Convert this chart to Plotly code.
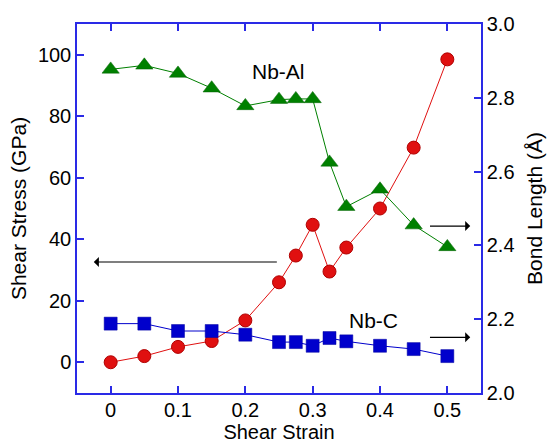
import plotly.graph_objects as go

strain = [0, 0.05, 0.1, 0.15, 0.2, 0.25, 0.275, 0.3, 0.325, 0.35, 0.4, 0.45, 0.5]
stress = [0, 2, 5, 6.9, 13.6, 26, 34.7, 44.7, 29.5, 37.3, 50, 69.8, 98.5]
nbal = [2.877, 2.888, 2.866, 2.826, 2.778, 2.795, 2.797, 2.797, 2.625, 2.505, 2.552, 2.455, 2.396]
nbc = [2.188, 2.188, 2.168, 2.168, 2.158, 2.138, 2.138, 2.128, 2.149, 2.140, 2.128, 2.119, 2.100]

FONT = "Liberation Sans, Arial, Helvetica, sans-serif"
AX = "#2a2ae6"

fig = go.Figure()
fig.add_trace(go.Scatter(x=strain, y=stress, mode="lines+markers", name="Stress",
                         line=dict(color="#e01010", width=1),
                         marker=dict(symbol="circle", size=13, color="#e01010",
                                     line=dict(color="#b00000", width=1))))
fig.add_trace(go.Scatter(x=strain, y=nbal, mode="lines+markers", name="Nb-Al", yaxis="y2",
                         line=dict(color="#008000", width=1),
                         marker=dict(symbol="triangle-up", size=15, color="#008000",
                                     line=dict(color="#006000", width=0.5))))
fig.add_trace(go.Scatter(x=strain, y=nbc, mode="lines+markers", name="Nb-C", yaxis="y2",
                         line=dict(color="#0000cc", width=1),
                         marker=dict(symbol="square", size=13, color="#0000cc",
                                     line=dict(color="#0000a0", width=0.5))))

ann_font = dict(family=FONT, size=21, color="black")
fig.add_annotation(x=0.249, y=2.87, yref="y2", text="Nb-Al", showarrow=False, font=ann_font)
fig.add_annotation(x=0.39, y=2.197, yref="y2", text="Nb-C", showarrow=False, font=ann_font)

fig.add_annotation(x=-0.025, y=32.6, ax=0.249, ay=32.6, xref="x", yref="y", axref="x", ayref="y",
                   text="", showarrow=True, arrowhead=1, arrowsize=1.4, arrowwidth=1.2, arrowcolor="black")
fig.add_annotation(x=0.534, y=2.4525, ax=0.472, ay=2.4525, xref="x", yref="y2", axref="x", ayref="y2",
                   text="", showarrow=True, arrowhead=1, arrowsize=1.4, arrowwidth=1.2, arrowcolor="black")
fig.add_annotation(x=0.534, y=2.151, ax=0.472, ay=2.151, xref="x", yref="y2", axref="x", ayref="y2",
                   text="", showarrow=True, arrowhead=1, arrowsize=1.4, arrowwidth=1.2, arrowcolor="black")

tickfont = dict(family=FONT, size=20, color="black")
titlefont = dict(family=FONT, size=21, color="black")

fig.update_layout(
    width=550, height=443,
    margin=dict(l=77, r=69, t=24, b=50, autoexpand=False),
    paper_bgcolor="white", plot_bgcolor="white",
    showlegend=False,
    xaxis=dict(range=[-0.05, 0.55], tickvals=[0, 0.1, 0.2, 0.3, 0.4, 0.5],
               ticktext=["0", "0.1", "0.2", "0.3", "0.4", "0.5"],
               showline=True, linecolor=AX, linewidth=1.5, mirror="ticks",
               ticks="inside", ticklen=7, tickcolor=AX, tickwidth=1.5,
               showgrid=False, zeroline=False, tickfont=tickfont, automargin=False,
               ticklabelstandoff=-2,
               title=dict(text="Shear Strain", font=dict(family=FONT, size=20, color="black"),
                          standoff=5)),
    yaxis=dict(range=[-10, 110], tickvals=[0, 20, 40, 60, 80, 100],
               showline=True, linecolor=AX, linewidth=1.5, mirror=False,
               ticks="inside", ticklen=7, tickcolor=AX, tickwidth=1.5,
               showgrid=False, zeroline=False, tickfont=tickfont, automargin=False,
               title=dict(text="Shear Stress (GPa)", font=titlefont, standoff=6)),
    yaxis2=dict(range=[2.0, 3.0], tickvals=[2.0, 2.2, 2.4, 2.6, 2.8, 3.0], tickformat=".1f",
                overlaying="y", side="right",
                showline=True, linecolor=AX, linewidth=1.5,
                ticks="inside", ticklen=7, tickcolor=AX, tickwidth=1.5,
                showgrid=False, zeroline=False, tickfont=tickfont, automargin=False,
                title=dict(text="Bond Length (Å)", font=titlefont, standoff=14)),
)

fig.write_html("out.html")
